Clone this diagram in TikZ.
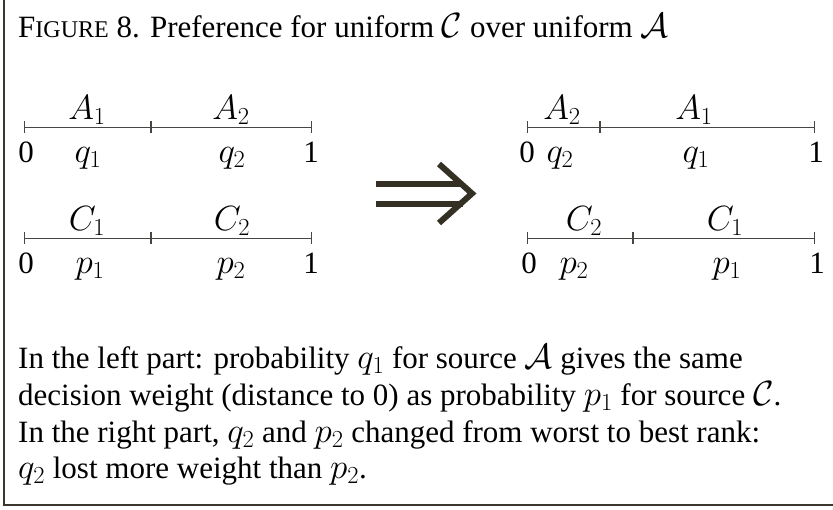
\RequirePackage{fix-cm}
\documentclass[tikz,border=0pt]{standalone}
\usepackage{fontspec}
\setmainfont{Liberation Serif}
\usepackage{tikz}
\usetikzlibrary{arrows.meta}
\definecolor{framecol}{RGB}{58,56,46}
\definecolor{linecol}{RGB}{70,70,66}
\definecolor{arrowcol}{RGB}{52,48,36}
% math in running text is set a little larger, as in the figure
\newcommand{\mth}[1]{{\fontsize{35}{37}\selectfont$#1$}}

\begin{document}
\begin{tikzpicture}[x=1pt, y=-1pt,
    seg/.style={{Bar[width=12pt, line width=0.9pt]}-{Bar[width=12pt, line width=0.9pt]}, line width=0.9pt, draw=linecol},
    lab/.style={font=\fontsize{35}{40}\selectfont, inner sep=0pt, anchor=base},
    num/.style={font=\fontsize{31}{36}\selectfont, inner sep=0pt, anchor=base},
    txt/.style={font=\fontsize{31}{37}\selectfont, inner sep=0pt, anchor=base west},
    frame/.style={draw=framecol, line width=2.5pt},
    bigarrow/.style={draw=arrowcol, line width=6pt}
]
    \useasboundingbox (0,0) rectangle (833,509);

    % Frame
    \draw[frame] (4,0) -- (4,505) -- (833,505);

    % Title
    \node[txt] (title) at (18,37) {F{\fontsize{24}{28}\selectfont IGURE} 8. Preference for uniform \mth{\mathcal{C}} over uniform \mth{\mathcal{A}}};

    % Left part, source A
    \coordinate (la0) at (24,127);
    \coordinate (la1) at (151,127);
    \coordinate (la2) at (312,127);
    \draw[seg] (la0) -- (la1);
    \draw[seg] (la1) -- (la2);
    \node[lab] (lA1) at (87,119) {$A_1$};
    \node[lab] (lA2) at (231,119) {$A_2$};
    \node[num] (la0n) at (26,162) {0};
    \node[lab] (lq1) at (88,162) {$q_1$};
    \node[lab] (lq2) at (232,162) {$q_2$};
    \node[num] (la2n) at (311,162) {1};

    % Left part, source C
    \coordinate (lc0) at (24,238);
    \coordinate (lc1) at (151,238);
    \coordinate (lc2) at (312,238);
    \draw[seg] (lc0) -- (lc1);
    \draw[seg] (lc1) -- (lc2);
    \node[lab] (lC1) at (87,230) {$C_1$};
    \node[lab] (lC2) at (232,230) {$C_2$};
    \node[num] (lc0n) at (26,273) {0};
    \node[lab] (lp1) at (90,273) {$p_1$};
    \node[lab] (lp2) at (231,273) {$p_2$};
    \node[num] (lc2n) at (311,273) {1};

    % Implication
    \draw[bigarrow] (376,184) -- (463,184);
    \draw[bigarrow] (376,203.5) -- (463,203.5);
    \draw[bigarrow, miter limit=10] (439,164) -- (472,193.5) -- (439,223);

    % Right part, source A
    \coordinate (ra0) at (527,127);
    \coordinate (ra1) at (600,127);
    \coordinate (ra2) at (815,127);
    \draw[seg] (ra0) -- (ra1);
    \draw[seg] (ra1) -- (ra2);
    \node[lab] (rA2) at (562,119) {$A_2$};
    \node[lab] (rA1) at (694,119) {$A_1$};
    \node[num] (ra0n) at (527,162) {0};
    \node[lab] (rq2) at (560,162) {$q_2$};
    \node[lab] (rq1) at (696,162) {$q_1$};
    \node[num] (ra2n) at (816,162) {1};

    % Right part, source C
    \coordinate (rc0) at (527,238);
    \coordinate (rc1) at (633,238);
    \coordinate (rc2) at (815,238);
    \draw[seg] (rc0) -- (rc1);
    \draw[seg] (rc1) -- (rc2);
    \node[lab] (rC2) at (584,230) {$C_2$};
    \node[lab] (rC1) at (725,230) {$C_1$};
    \node[num] (rc0n) at (529,273) {0};
    \node[lab] (rp2) at (574,273) {$p_2$};
    \node[lab] (rp1) at (727,273) {$p_1$};
    \node[num] (rc2n) at (817,273) {1};

    % Caption text
    \node[txt] (cap1) at (18,368) {In the left part: probability \mth{q_1} for source \mth{\mathcal{A}} gives the same};
    \node[txt] (cap2) at (18,405) {decision weight (distance to 0) as probability \mth{p_1} for source \mth{\mathcal{C}}.};
    \node[txt] (cap3) at (18,442) {In the right part, \mth{q_2} and \mth{p_2} changed from worst to best rank:};
    \node[txt] (cap4) at (18,478) {\mth{q_2} lost more weight than \mth{p_2}.};
\end{tikzpicture}
\end{document}
